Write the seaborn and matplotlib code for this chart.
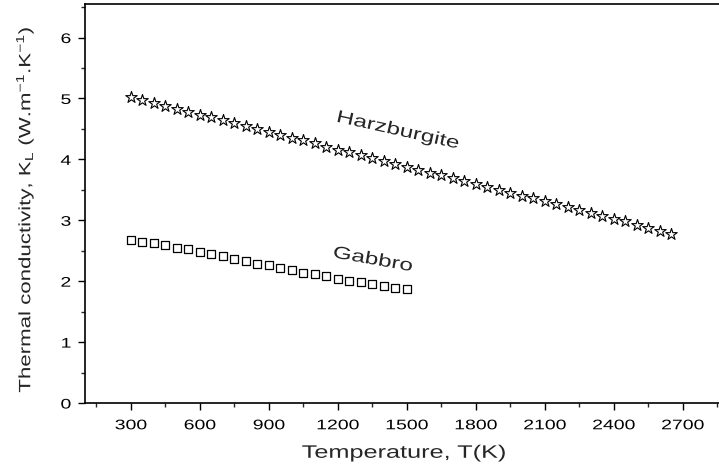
import matplotlib
matplotlib.use("Agg")
import matplotlib.pyplot as plt
import seaborn as sns
import pandas as pd
from matplotlib.ticker import MultipleLocator
from matplotlib.patheffects import AbstractPathEffect
from matplotlib.transforms import Affine2D
from matplotlib.path import Path

harz_T = list(range(300, 2651, 50))
harz_K = [5.02, 4.97, 4.92, 4.88, 4.83, 4.78, 4.73, 4.69, 4.64, 4.59,
          4.54, 4.50, 4.45, 4.40, 4.35, 4.31, 4.26, 4.21, 4.16, 4.12,
          4.07, 4.02, 3.97, 3.93, 3.88, 3.83, 3.78, 3.74, 3.69, 3.64,
          3.59, 3.55, 3.50, 3.45, 3.40, 3.36, 3.31, 3.26, 3.21, 3.17,
          3.12, 3.07, 3.02, 2.98, 2.93, 2.88, 2.83, 2.78]
gab_T = list(range(300, 1501, 50))
gab_K = [2.68, 2.65, 2.62, 2.59, 2.55, 2.52, 2.48, 2.45, 2.41, 2.37,
         2.33, 2.29, 2.26, 2.22, 2.18, 2.14, 2.11, 2.08, 2.04, 2.01,
         1.98, 1.95, 1.92, 1.89, 1.87]
x_ticks = [300, 600, 900, 1200, 1500, 1800, 2100, 2400, 2700]
y_ticks = [0, 1, 2, 3, 4, 5, 6]


class Stretch(AbstractPathEffect):
    """Stretch text glyphs horizontally (along the baseline)."""
    def __init__(self, sx=1.4, anchor="center"):
        super().__init__()
        self.sx = sx
        self.anchor = anchor

    def draw_path(self, renderer, gc, tpath, affine, rgbFace=None):
        v = tpath.vertices
        if tpath.codes is not None:
            v = v[tpath.codes != Path.CLOSEPOLY]
        if len(v):
            if self.anchor == "center":
                cx = (v[:, 0].min() + v[:, 0].max()) / 2
            elif self.anchor == "right":
                cx = v[:, 0].max()
            else:
                cx = v[:, 0].min()
        else:
            cx = 0
        t = Affine2D().translate(-cx, 0).scale(self.sx, 1).translate(cx, 0) + affine
        renderer.draw_path(gc, tpath, t, rgbFace)


SX = 1.4

sns.set_theme(style="ticks")
plt.rcParams['font.family'] = ['Liberation Sans', 'DejaVu Sans']
plt.rcParams['mathtext.fontset'] = 'custom'
plt.rcParams['mathtext.rm'] = 'Liberation Sans'

fig = plt.figure(figsize=(7.19, 4.70), dpi=100)
ax = fig.add_axes([85/719, 67/470, 637/719, 399/470])

dh = pd.DataFrame({"T": harz_T, "K": harz_K})
dg = pd.DataFrame({"T": gab_T, "K": gab_K})
sns.scatterplot(data=dh, x="T", y="K", marker="*", s=75, facecolor="white",
                edgecolor="black", linewidth=0.8, ax=ax, zorder=3)
sns.scatterplot(data=dg, x="T", y="K", marker="s", s=38, facecolor="white",
                edgecolor="black", linewidth=0.9, ax=ax, zorder=3)

ax.set_xlim(100, 2870)
ax.set_ylim(0, 6.55)
ax.xaxis.set_minor_locator(MultipleLocator(150))
ax.yaxis.set_minor_locator(MultipleLocator(0.5))
ax.set_xticks(x_ticks)
ax.set_yticks(y_ticks)
ax.set_xticklabels([str(v) for v in x_ticks], fontsize=10,
                   path_effects=[Stretch(SX, "center")])
ax.set_yticklabels([str(v) for v in y_ticks], fontsize=10,
                   path_effects=[Stretch(SX, "right")])
ax.tick_params(which="major", direction="out", length=5, width=1, colors="black", pad=5)
ax.tick_params(axis="x", which="major", pad=6)
ax.tick_params(which="minor", direction="out", length=3, width=1)
for sp in ax.spines.values():
    sp.set_linewidth(1.2)
    sp.set_color("black")

ax.set_xlabel("Temperature, T(K)", fontsize=13, labelpad=9,
              path_effects=[Stretch(SX, "center")])
ax.set_ylabel(r"Thermal conductivity, K$_\mathregular{L}$ (W.m$^\mathregular{-1}$.K$^\mathregular{-1}$)",
              fontsize=11.8, labelpad=8, path_effects=[Stretch(SX * 0.97, "center")])
ax.yaxis.set_label_coords(-0.078, 0.485)

ax.text(1461, 4.47, "Harzburgite", rotation=-12.5, fontsize=12.5,
        ha="center", va="center", path_effects=[Stretch(SX, "center")])
ax.text(1352, 2.35, "Gabbro", rotation=-10, fontsize=12.5,
        ha="center", va="center", path_effects=[Stretch(SX, "center")])

fig.savefig("out.png", dpi=100)
